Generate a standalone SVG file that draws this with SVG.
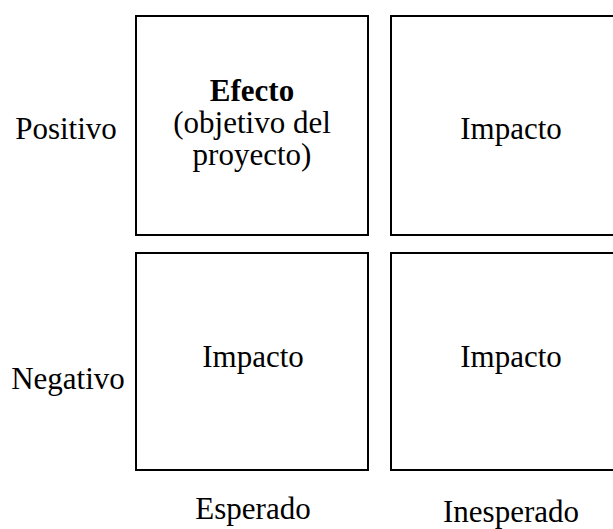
<svg xmlns="http://www.w3.org/2000/svg" width="613" height="529" viewBox="0 0 613 529">
<style>
.box{fill:#fff;stroke:#000;stroke-width:2}
text{font-family:"Liberation Serif","Times New Roman",serif;font-size:31px;fill:#000;text-anchor:middle}
.b{font-weight:bold}
</style>
<rect width="613" height="529" fill="#fff"/>
<g id="label-positivo"><text x="66" y="139">Positivo</text></g>
<g id="label-negativo"><text x="68" y="389">Negativo</text></g>
<g id="label-esperado"><text x="253" y="519">Esperado</text></g>
<g id="label-inesperado"><text x="511" y="522">Inesperado</text></g>
<g id="node-efecto">
<rect class="box" x="136" y="16" width="232" height="219"/>
<text class="b" x="252" y="101">Efecto</text>
<text x="252" y="133">(objetivo del</text>
<text x="252" y="165">proyecto)</text>
</g>
<g id="node-impacto-pi">
<rect class="box" x="391" y="16" width="240" height="219"/>
<text x="511" y="139">Impacto</text>
</g>
<g id="node-impacto-ne">
<rect class="box" x="136" y="253" width="232" height="217"/>
<text x="253" y="367">Impacto</text>
</g>
<g id="node-impacto-ni">
<rect class="box" x="391" y="253" width="240" height="217"/>
<text x="511" y="367">Impacto</text>
</g>
<g id="connectors"></g>
</svg>
